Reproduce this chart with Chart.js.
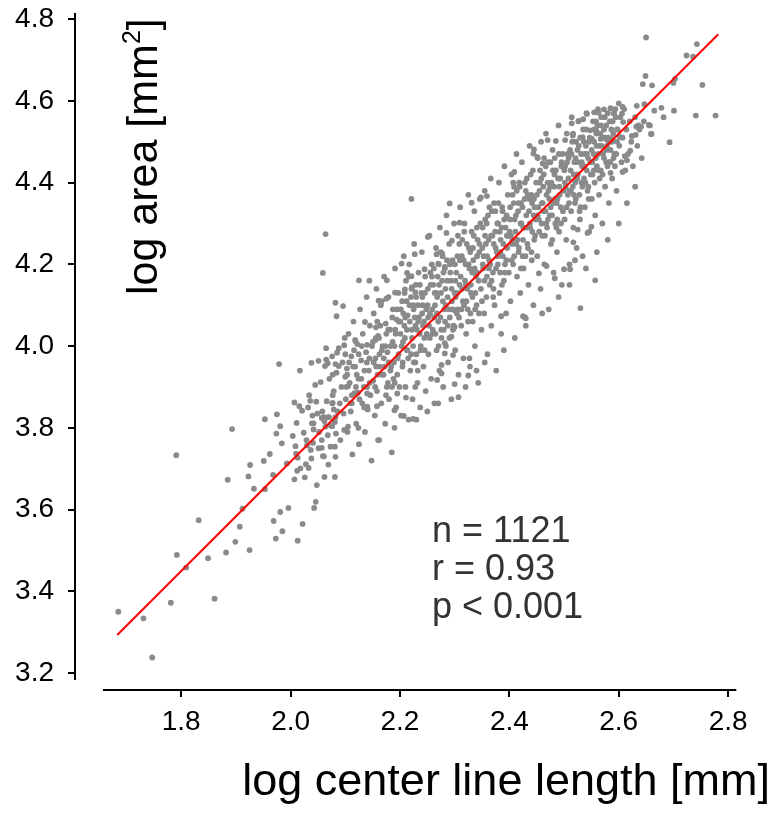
<!DOCTYPE html>
<html>
<head>
<meta charset="utf-8">
<title>log area vs log center line length</title>
<script src="https://cdn.jsdelivr.net/npm/chart.js@4.4.0/dist/chart.umd.min.js"></script>
<style>
  html, body { margin: 0; padding: 0; background: #fff; }
  canvas { display: block; }
</style>
</head>
<body>
<canvas id="scatterChart" width="773" height="813"></canvas>
<script>
// Tick values for both axes
const xTicks = [1.8, 2.0, 2.2, 2.4, 2.6, 2.8];
const yTicks = [3.2, 3.4, 3.6, 3.8, 4.0, 4.2, 4.4, 4.6, 4.8];

// Fitted line end points (log center line length -> log area)
const fitX = [1.683, 2.782];
const fitY = [3.293, 4.763];

// Stats text shown inside the plot
const statsLines = ["n = 1121", "r = 0.93", "p < 0.001"];

// Points, [log length, log area]
// lower tail, x < 2.1
const lowTail = [
  [1.685,3.350],[1.747,3.238],[1.731,3.334],[1.781,3.372],[1.861,3.382],[1.792,3.489],[1.809,3.458],[1.849,3.481],
  [1.832,3.574],[1.791,3.733],[1.893,3.797],[1.882,3.495],[1.899,3.521],[1.925,3.501],[1.907,3.558],[1.912,3.602],
  [1.885,3.673],[1.923,3.681],[1.933,3.651],[1.926,3.709],[1.953,3.650],[1.951,3.719],[1.962,3.736],[1.953,3.821],
  [1.975,3.833],[1.981,3.804],[1.974,3.786],[1.984,3.762],[1.968,3.685],[1.993,3.713],[1.996,3.604],[1.981,3.594],
  [1.969,3.572],[1.985,3.547],[1.973,3.529],[2.013,3.524],[2.022,3.565],[2.007,3.674],[2.012,3.695],[2.009,3.755],
  [2.013,3.727],[2.007,3.862],[2.016,3.853],[2.032,3.850],[2.036,3.866],[2.047,3.864],[2.040,3.830],[2.039,3.811],
  [2.024,3.788],[2.030,3.757],[2.037,3.746],[2.028,3.711],[2.033,3.702],[2.046,3.619],[2.043,3.604],
  [2.082,4.106],[2.084,4.073],[2.065,3.995],[2.085,3.984],[1.979,3.956],[2.038,3.959],[2.051,3.964],[2.065,3.967],
  [2.068,3.958],[2.082,3.956],[2.017,3.940],[2.077,3.930],[2.077,3.880],[2.077,3.861],[2.079,3.845],[2.061,3.826],
  [2.069,3.826],[2.082,3.826],[2.064,3.803],[2.076,3.804],[2.068,3.782],[2.057,3.770],[2.073,3.754],[2.081,3.754],
  [2.059,3.731],[2.082,3.729],[2.062,3.680],[2.042,3.811],[2.041,3.763],[2.010,3.737],[2.051,3.750],[2.057,3.751],
  [2.083,3.786],
  [2.004,3.78],[2.011,3.812],[2.018,3.701],[2.021,3.842],[2.026,3.679],[2.029,3.77],[2.034,3.88],[2.038,3.725],
  [2.042,3.796],[2.045,3.905],[2.048,3.66],[2.049,3.835],
  [2.052,3.79],[2.055,3.912],[2.058,3.84],[2.061,3.73],[2.063,3.951],[2.066,3.865],[2.069,3.71],[2.071,3.92],
  [2.074,3.805],[2.076,3.975],[2.079,3.89],[2.081,3.68],[2.084,3.935],[2.086,3.84],[2.088,3.995],[2.091,3.77],
  [2.093,3.9],[2.095,3.96],[2.097,3.835],[2.099,4.02]
];

// middle of the cloud, 2.05 - 2.35
const midCloud = [
  [2.064,4.274],[2.059,4.179],[2.125,4.161],[2.144,4.160],[2.176,4.161],[2.096,4.098],[2.203,4.202],[2.227,4.225],
  [2.251,4.267],[2.285,4.277],[2.267,4.225],[2.277,4.227],[2.295,4.258],[2.213,4.179],[2.221,4.171],[2.245,4.188],
  [2.270,4.202],[2.282,4.194],[2.161,4.111],[2.175,4.116],[2.191,4.131],[2.209,4.139],[2.222,4.144],[2.228,4.132],
  [2.136,4.059],[2.156,4.046],[2.118,4.015],[2.140,4.003],[2.155,4.015],[2.100,3.980],[2.088,3.951],[2.100,3.925],
  [2.105,3.902],[2.076,3.860],[2.090,3.860],[2.112,3.860],[2.140,3.852],[2.158,3.853],[2.123,3.886],[2.140,3.884],
  [2.195,3.884],[2.211,3.874],[2.228,3.900],[2.268,3.917],[2.300,3.907],[2.276,3.933],[2.276,3.954],[2.297,3.978],
  [2.282,3.982],[2.300,4.088],[2.300,4.047],[2.294,4.023],[2.282,4.007],
  [2.221,4.360],[2.291,4.349],[2.331,4.351],[2.309,4.302],[2.098,4.002],[2.119,4.011],[2.327,3.970],[2.307,3.875],
  [2.325,3.928],[2.224,3.822],[2.207,3.829],[2.190,3.843],[2.057,3.824],[2.070,3.826],[2.062,3.816],[2.081,3.814],
  [2.098,3.795],[2.105,3.803],[2.124,3.800],
  [2.101,3.87],[2.103,3.945],[2.104,3.79],[2.106,4.03],[2.108,3.91],[2.11,3.84],[2.111,3.975],[2.113,3.735],
  [2.115,4.06],[2.117,3.885],[2.118,3.95],[2.12,3.81],[2.122,4.005],[2.124,3.92],[2.125,3.76],[2.127,4.09],
  [2.129,3.965],[2.131,3.86],[2.132,4.03],[2.134,3.9],[2.136,3.79],[2.138,3.985],[2.139,4.12],[2.141,3.845],
  [2.143,3.94],[2.145,4.05],[2.146,3.88],[2.148,3.72],[2.149,4.0],
  [2.151,3.915],[2.152,4.08],[2.154,3.83],[2.155,3.97],[2.157,4.14],[2.158,3.89],[2.16,4.025],[2.162,3.77],
  [2.163,3.95],[2.165,4.1],[2.166,3.86],[2.168,4.0],[2.17,3.93],[2.171,4.17],[2.173,3.81],[2.174,4.055],
  [2.176,3.9],[2.177,3.985],[2.179,4.12],[2.18,3.87],[2.182,4.04],[2.184,3.95],[2.185,3.74],[2.187,4.09],
  [2.188,3.92],[2.19,4.0],[2.191,4.19],[2.193,3.85],[2.194,4.065],[2.196,3.97],[2.197,4.13],[2.199,3.9],
  [2.201,4.03],[2.202,3.83],[2.204,4.11],[2.205,3.96],[2.207,4.22],[2.208,4.05],[2.21,3.9],[2.211,4.16],
  [2.213,3.99],[2.214,4.075],[2.216,3.82],[2.217,4.2],[2.219,3.94],[2.22,4.12],[2.222,4.02],[2.223,3.87],
  [2.225,4.09],[2.226,4.25],[2.228,3.96],[2.229,4.15],[2.231,4.04],[2.232,3.91],[2.234,4.18],[2.235,4.07],
  [2.237,3.85],[2.238,4.0],[2.24,4.23],[2.241,4.12],[2.243,3.95],[2.244,4.06],[2.246,4.17],[2.247,3.89],[2.249,4.03],
  [2.251,4.14],[2.252,3.98],[2.254,4.27],[2.255,4.08],[2.257,3.92],[2.258,4.2],[2.26,4.04],[2.261,4.15],
  [2.263,3.86],[2.264,4.1],[2.266,4.24],[2.267,3.99],[2.269,4.17],[2.27,4.06],[2.272,3.94],[2.273,4.29],
  [2.275,4.13],[2.276,4.02],[2.278,4.22],[2.279,3.9],[2.281,4.09],[2.282,4.19],[2.284,4.0],[2.285,4.32],
  [2.287,4.12],[2.288,3.96],[2.29,4.25],[2.291,4.07],[2.293,4.16],[2.294,3.87],[2.296,4.21],[2.297,4.04],
  [2.299,4.3],[2.3,4.13],
  [2.301,3.99],[2.303,4.18],[2.304,4.08],[2.306,4.27],[2.307,3.93],[2.309,4.15],[2.31,4.34],[2.312,4.05],
  [2.313,4.22],[2.315,4.11],[2.316,3.97],[2.318,4.3],[2.319,4.16],[2.321,4.03],[2.322,4.25],[2.324,4.09],
  [2.325,4.37],[2.327,4.19],[2.328,3.95],[2.33,4.13],[2.331,4.28],[2.333,4.06],[2.334,4.21],[2.336,4.33],
  [2.337,4.0],[2.339,4.17],[2.34,4.1],[2.342,4.26],[2.343,3.91],[2.345,4.23],[2.346,4.36],[2.348,4.14],[2.349,4.04],
  [2.16,3.77],[2.19,3.8],[2.23,3.82],[2.25,3.84],[2.27,3.86],[2.32,3.9],[2.34,3.94]
];

// upper part of the cloud, 2.35 - 2.78
const upperCloud = [
  [2.649,4.661],[2.644,4.641],[2.661,4.638],[2.703,4.654],[2.700,4.644],[2.753,4.639],[2.777,4.564],[2.741,4.564],
  [2.701,4.576],[2.682,4.560],[2.678,4.583],[2.665,4.576],[2.693,4.499],[2.659,4.519],[2.655,4.541],[2.633,4.588],
  [2.647,4.592],[2.636,4.540],[2.632,4.537],[2.624,4.514],[2.631,4.517],[2.621,4.478],[2.611,4.465],[2.615,4.455],
  [2.607,4.426],[2.585,4.424],[2.557,4.161],[2.530,4.093],[2.550,4.292],[2.543,4.277],[2.520,4.210],[2.517,4.254],
  [2.525,4.285],[2.500,4.188],[2.511,4.188],[2.483,4.166],[2.468,4.196],[2.454,4.178],[2.425,4.073],[2.430,4.068],
  [2.385,4.073],[2.348,4.364],[2.359,4.367],[2.409,4.426],[2.407,4.400],[2.470,4.504],[2.485,4.502],[2.502,4.504],
  [2.516,4.515],[2.445,4.481],[2.444,4.471],[2.451,4.463],[2.461,4.447],[2.514,4.545],[2.527,4.551],[2.535,4.555],
  [2.542,4.568],[2.555,4.572],[2.563,4.571],[2.573,4.579],[2.585,4.582],[2.600,4.594],[2.607,4.585],[2.606,4.569],
  [2.591,4.569],[2.608,4.548],[2.597,4.530],[2.602,4.512],[2.588,4.507],[2.579,4.504],[2.534,4.511],[2.551,4.507],
  [2.567,4.507],[2.548,4.528],[2.559,4.527],
  [2.650,4.755],[2.743,4.739],[2.724,4.711],[2.736,4.708],[2.657,4.540],[2.660,4.519],[2.641,4.537],
  [2.351,4.29],[2.352,4.19],[2.354,4.08],[2.355,4.38],[2.357,4.25],[2.358,4.12],[2.36,3.98],[2.361,4.32],
  [2.363,4.21],[2.364,4.15],[2.366,4.41],[2.367,4.05],[2.369,4.27],[2.37,4.18],[2.372,4.35],[2.373,4.1],
  [2.375,4.24],[2.376,3.94],[2.378,4.3],[2.379,4.2],[2.381,4.4],[2.382,4.13],[2.384,4.26],[2.385,4.03],
  [2.387,4.34],[2.388,4.22],[2.39,4.16],[2.391,4.44],[2.393,4.29],[2.394,4.08],[2.396,4.24],[2.397,4.37],[2.399,4.18],
  [2.401,4.31],[2.402,4.11],[2.404,4.42],[2.405,4.25],[2.407,4.2],[2.408,4.35],[2.41,4.02],[2.411,4.28],
  [2.413,4.47],[2.414,4.17],[2.416,4.33],[2.417,4.23],[2.419,4.39],[2.42,4.13],[2.422,4.3],[2.423,4.45],
  [2.425,4.26],[2.426,4.19],[2.428,4.36],[2.429,4.07],[2.431,4.32],[2.432,4.41],[2.434,4.24],[2.435,4.15],
  [2.437,4.49],[2.438,4.29],[2.44,4.37],[2.441,4.21],[2.443,4.43],[2.444,4.1],[2.446,4.34],[2.447,4.27],[2.449,4.4],
  [2.451,4.22],[2.452,4.46],[2.454,4.31],[2.455,4.38],[2.457,4.14],[2.458,4.5],[2.46,4.27],[2.461,4.35],
  [2.463,4.42],[2.464,4.2],[2.466,4.33],[2.467,4.52],[2.469,4.29],[2.47,4.4],[2.472,4.09],[2.473,4.36],
  [2.475,4.45],[2.476,4.25],[2.478,4.32],[2.479,4.48],[2.481,4.18],[2.482,4.39],[2.484,4.3],[2.485,4.43],
  [2.487,4.23],[2.488,4.36],[2.49,4.54],[2.491,4.28],[2.493,4.41],[2.494,4.34],[2.496,4.15],[2.497,4.47],[2.499,4.38],
  [2.501,4.31],[2.502,4.44],[2.504,4.26],[2.505,4.52],[2.507,4.37],[2.508,4.41],[2.51,4.2],[2.511,4.48],
  [2.513,4.33],[2.514,4.56],[2.516,4.39],[2.517,4.29],[2.519,4.45],[2.52,4.35],[2.522,4.5],[2.523,4.24],
  [2.525,4.42],[2.526,4.55],[2.528,4.37],[2.529,4.31],[2.531,4.47],[2.532,4.4],[2.534,4.22],[2.535,4.53],
  [2.537,4.44],[2.538,4.34],[2.54,4.49],[2.541,4.57],[2.543,4.38],[2.544,4.46],[2.546,4.28],[2.547,4.51],[2.549,4.42],
  [2.551,4.36],[2.553,4.55],[2.554,4.47],[2.556,4.4],[2.557,4.32],[2.559,4.52],[2.56,4.44],[2.562,4.58],
  [2.564,4.37],[2.565,4.49],[2.567,4.43],[2.568,4.56],[2.57,4.3],[2.572,4.51],[2.573,4.46],[2.575,4.39],
  [2.577,4.54],[2.578,4.48],[2.58,4.57],[2.582,4.35],[2.583,4.5],[2.585,4.45],[2.587,4.55],[2.588,4.41],
  [2.59,4.52],[2.592,4.47],[2.594,4.58],[2.596,4.38],[2.598,4.53],
  [2.601,4.49],[2.603,4.56],[2.605,4.45],[2.607,4.51],[2.61,4.58],[2.612,4.43],[2.614,4.53],[2.617,4.47],
  [2.62,4.55],[2.623,4.5],[2.626,4.44],[2.63,4.56],[2.634,4.49],[2.638,4.53],[2.642,4.46],[2.646,4.55],
  [2.355,3.96],[2.39,3.99],[2.43,4.05],[2.46,4.08],[2.49,4.12],[2.51,4.15],[2.54,4.19],[2.56,4.23],
  [2.58,4.26],[2.6,4.3],[2.615,4.35],[2.63,4.39]
];

// densest core of the band
const coreCloud = [
  [2.102,3.9],[2.107,3.96],[2.112,3.88],[2.116,3.99],[2.121,3.93],[2.126,3.87],[2.13,4.0],[2.135,3.94],[2.14,3.9],[2.144,3.97],
  [2.152,3.96],[2.156,4.02],[2.159,3.93],[2.164,4.05],[2.167,3.99],[2.172,3.95],[2.175,4.03],[2.178,3.91],
  [2.183,4.0],[2.186,4.07],[2.189,3.96],[2.192,4.03],[2.195,3.93],[2.198,4.06],
  [2.203,4.0],[2.206,4.08],[2.209,4.02],[2.212,4.11],[2.215,3.97],[2.218,4.06],[2.221,4.14],[2.224,4.0],
  [2.227,4.07],[2.23,3.98],[2.233,4.1],[2.236,4.03],[2.239,4.13],[2.242,4.05],[2.245,3.99],[2.248,4.09],
  [2.253,4.05],[2.256,4.15],[2.259,4.09],[2.262,4.19],[2.265,4.03],[2.268,4.12],[2.271,4.2],[2.274,4.07],
  [2.277,4.16],[2.28,4.04],[2.283,4.14],[2.286,4.21],[2.289,4.09],[2.292,4.18],[2.295,4.11],[2.298,4.05],
  [2.302,4.12],[2.305,4.22],[2.308,4.07],[2.311,4.17],[2.314,4.26],[2.317,4.1],[2.32,4.2],[2.323,4.14],
  [2.326,4.24],[2.329,4.08],[2.332,4.18],[2.335,4.27],[2.338,4.13],[2.341,4.22],[2.344,4.16],[2.347,4.3],[2.35,4.11],
  [2.353,4.22],[2.356,4.31],[2.359,4.17],[2.362,4.26],[2.365,4.2],[2.368,4.33],[2.371,4.14],[2.374,4.28],
  [2.377,4.23],[2.38,4.35],[2.383,4.18],[2.386,4.29],[2.389,4.25],[2.392,4.2],[2.395,4.32],[2.398,4.27],
  [2.403,4.27],[2.406,4.37],[2.409,4.22],[2.412,4.32],[2.415,4.26],[2.418,4.4],[2.421,4.19],[2.424,4.34],
  [2.427,4.29],[2.43,4.38],[2.433,4.25],[2.436,4.33],[2.439,4.42],[2.442,4.28],[2.445,4.36],[2.448,4.31],
  [2.453,4.34],[2.456,4.43],[2.459,4.3],[2.462,4.39],[2.465,4.27],[2.468,4.37],[2.471,4.45],[2.474,4.32],
  [2.477,4.4],[2.48,4.35],[2.483,4.46],[2.486,4.29],[2.489,4.41],[2.492,4.37],[2.495,4.44],[2.498,4.33],
  [2.503,4.39],[2.506,4.47],[2.509,4.35],[2.512,4.43],[2.515,4.5],[2.518,4.37],[2.521,4.46],[2.524,4.41],
  [2.527,4.49],[2.53,4.34],[2.533,4.44],[2.536,4.5],[2.539,4.4],[2.542,4.47],[2.545,4.36],[2.548,4.45],
  [2.552,4.42],[2.555,4.5],[2.558,4.46],[2.561,4.54],[2.565,4.41],[2.569,4.49],[2.573,4.53],[2.577,4.45],
  [2.581,4.51],[2.585,4.48],[2.589,4.55],[2.593,4.44],[2.597,4.5]
];

// more of the core, the picture is almost solid here
const coreCloud2 = [
  [2.1505,4.01],[2.1545,3.9],[2.1585,4.06],[2.1625,3.98],[2.1665,4.11],[2.1705,3.97],[2.1745,3.88],[2.1785,4.04],
  [2.1825,3.94],[2.1865,4.01],[2.1905,3.91],[2.1945,4.09],
  [2.2005,4.06],[2.2045,3.95],[2.2085,4.13],[2.2125,4.04],[2.2165,4.17],[2.2205,3.98],[2.2245,4.1],[2.2285,4.05],
  [2.2325,3.94],[2.2365,4.15],[2.2405,4.08],[2.2445,4.02],
  [2.2505,4.1],[2.2545,4.02],[2.2585,4.17],[2.2625,4.07],[2.2665,4.13],[2.2705,4.0],[2.2745,4.23],[2.2785,4.11],
  [2.2825,4.06],[2.2865,4.16],[2.2905,4.02],[2.2945,4.14],
  [2.3005,4.2],[2.3045,4.13],[2.3085,4.25],[2.3125,4.09],[2.3165,4.21],[2.3205,4.15],[2.3245,4.06],[2.3285,4.23],
  [2.3325,4.12],[2.3365,4.19],[2.3405,4.29],[2.3445,4.08],
  [2.3505,4.24],[2.3545,4.16],[2.3585,4.3],[2.3625,4.19],[2.3665,4.27],[2.3705,4.12],[2.3745,4.33],[2.3785,4.22],
  [2.3825,4.28],[2.3865,4.15],[2.3905,4.31],[2.3945,4.21],
  [2.4005,4.28],[2.4045,4.21],[2.4085,4.39],[2.4125,4.25],[2.4165,4.35],[2.4205,4.3],[2.4245,4.22],[2.4285,4.4],
  [2.4325,4.29],[2.4365,4.36],[2.4405,4.23],[2.4445,4.32],
  [2.4505,4.37],[2.4545,4.28],[2.4585,4.41],[2.4625,4.33],[2.4665,4.44],[2.4705,4.31],[2.4745,4.39],[2.4785,4.26],
  [2.4825,4.42],[2.4865,4.35],[2.4905,4.47],[2.4945,4.3],
  [2.5005,4.43],[2.5045,4.34],[2.5085,4.46],[2.5125,4.38],[2.5165,4.52],[2.5205,4.4],[2.5245,4.48],[2.5285,4.33],
  [2.5325,4.45],[2.5365,4.41],[2.5405,4.53],[2.5445,4.39],
  [2.5505,4.48],[2.5545,4.43],[2.5585,4.55],[2.5625,4.47],[2.5665,4.52],[2.5705,4.42],[2.5745,4.56],[2.5785,4.49],
  [2.5825,4.45],[2.5865,4.53],[2.5905,4.46],[2.5945,4.56]
];

// still more of the core
const coreCloud3 = [
  [2.1035,3.93],[2.1095,3.86],[2.1145,3.95],[2.1195,3.9],[2.1245,3.98],[2.1295,3.92],[2.1345,3.85],[2.1395,3.96],
  [2.1445,3.91],[2.1565,3.95],[2.1615,4.02],[2.1675,3.93],[2.1735,4.0],[2.1795,3.96],[2.1855,3.9],[2.1915,4.04],[2.1975,3.98],
  [2.2015,4.09],[2.2055,4.01],[2.2095,4.07],[2.2135,3.99],[2.2175,4.1],[2.2215,4.04],[2.2255,3.96],[2.2295,4.12],
  [2.2335,4.06],[2.2375,3.99],[2.2415,4.1],[2.2455,4.13],
  [2.2515,4.07],[2.2555,4.18],[2.2595,4.03],[2.2635,4.13],[2.2675,4.08],[2.2715,4.15],[2.2755,4.04],[2.2795,4.18],
  [2.2835,4.1],[2.2875,4.05],[2.2915,4.2],[2.2955,4.09],
  [2.3015,4.16],[2.3055,4.09],[2.3095,4.21],[2.3135,4.14],[2.3175,4.28],[2.3215,4.11],[2.3255,4.2],[2.3295,4.15],
  [2.3335,4.24],[2.3375,4.09],[2.3415,4.18],[2.3455,4.25],
  [2.3515,4.2],[2.3555,4.27],[2.3595,4.22],[2.3635,4.34],[2.3675,4.16],[2.3715,4.25],[2.3755,4.19],[2.3795,4.3],
  [2.3835,4.23],[2.3875,4.33],[2.3915,4.18],[2.3955,4.27],
  [2.4015,4.34],[2.4055,4.26],[2.4095,4.31],[2.4135,4.38],[2.4175,4.24],[2.4215,4.35],[2.4255,4.29],[2.4295,4.22],
  [2.4335,4.37],[2.4375,4.3],[2.4415,4.35],[2.4455,4.26],
  [2.4515,4.32],[2.4555,4.4],[2.4595,4.35],[2.4635,4.46],[2.4675,4.3],[2.4715,4.38],[2.4755,4.34],[2.4795,4.43],
  [2.4835,4.36],[2.4875,4.31],[2.4915,4.39],[2.4955,4.45],
  [2.5015,4.4],[2.5055,4.45],[2.5095,4.38],[2.5135,4.47],[2.5175,4.42],[2.5215,4.36],[2.5255,4.45],[2.5295,4.51],
  [2.5335,4.39],[2.5375,4.47],[2.5415,4.43],[2.5455,4.5],
  [2.5515,4.45],[2.5555,4.53],[2.5595,4.49],[2.5635,4.43],[2.5675,4.54],[2.5715,4.47],[2.5755,4.51],[2.5795,4.44],
  [2.5835,4.55],[2.5875,4.5],[2.5915,4.57],[2.5955,4.47]
];

const fontFamily = "'Liberation Sans', Arial, Helvetica, sans-serif";

// Build chart points from the arrays
const scatterPoints = [...lowTail, ...midCloud, ...upperCloud, ...coreCloud, ...coreCloud2, ...coreCloud3]
  .map(([x, y]) => ({ x, y }));
const fitPoints = fitX.map((x, i) => ({ x, y: fitY[i] }));

// Axis lines drawn off the plot box (base R look), plus titles and stats text
const framePlugin = {
  id: "framePlugin",
  afterDraw(chart) {
    const { ctx, chartArea: area, scales } = chart;
    const axisX = area.left - 28;
    const axisY = area.bottom + 10;

    ctx.save();
    ctx.strokeStyle = "#000";
    ctx.lineWidth = 2;
    ctx.beginPath();
    ctx.moveTo(axisX, area.top);
    ctx.lineTo(axisX, area.bottom);
    yTicks.forEach((v) => {
      const p = Math.round(scales.y.getPixelForValue(v));
      ctx.moveTo(axisX - 7, p);
      ctx.lineTo(axisX, p);
    });
    ctx.moveTo(area.left, axisY);
    ctx.lineTo(area.right, axisY);
    xTicks.forEach((v) => {
      const p = Math.round(scales.x.getPixelForValue(v));
      ctx.moveTo(p, axisY);
      ctx.lineTo(p, axisY + 7);
    });
    ctx.stroke();

    // x title
    ctx.fillStyle = "#000";
    ctx.font = `45px ${fontFamily}`;
    ctx.textAlign = "right";
    ctx.textBaseline = "alphabetic";
    ctx.fillText("log center line length [mm]", 770, 795);

    // y title, rotated, with superscript 2
    ctx.save();
    ctx.translate(157, 295);
    ctx.rotate(-Math.PI / 2);
    ctx.textAlign = "left";
    ctx.font = `43px ${fontFamily}`;
    const head = "log area [mm";
    ctx.fillText(head, 0, 0);
    let w = ctx.measureText(head).width;
    ctx.font = `25px ${fontFamily}`;
    ctx.fillText("2", w, -17);
    w += ctx.measureText("2").width;
    ctx.font = `43px ${fontFamily}`;
    ctx.fillText("]", w, 0);
    ctx.restore();

    // stats
    ctx.fillStyle = "#333";
    ctx.font = `36px ${fontFamily}`;
    ctx.textAlign = "left";
    statsLines.forEach((line, i) => ctx.fillText(line, 432, 542 + i * 38));
    ctx.restore();
  },
};

const ctx = document.getElementById("scatterChart").getContext("2d");

const chart = new Chart(ctx, {
  type: "scatter",
  data: {
    datasets: [
      {
        type: "line",
        label: "fit",
        data: fitPoints,
        borderColor: "#ff0000",
        borderWidth: 2,
        pointRadius: 0,
        fill: false,
      },
      {
        label: "vessels",
        data: scatterPoints,
        backgroundColor: "#8a8a8a",
        borderWidth: 0,
        pointRadius: 2.9,
      },
    ],
  },
  options: {
    responsive: false,
    animation: false,
    devicePixelRatio: 1,
    layout: { padding: { left: 0, top: 13, right: 33, bottom: 0 } },
    scales: {
      x: {
        type: "linear",
        min: 1.657,
        max: 2.815,
        grid: { display: false, drawTicks: false },
        border: { display: false },
        afterBuildTicks: (scale) => { scale.ticks = xTicks.map((v) => ({ value: v })); },
        afterFit: (scale) => { scale.height = 133; },
        ticks: {
          autoSkip: false,
          maxRotation: 0,
          padding: 25,
          color: "#000",
          font: { family: fontFamily, size: 28 },
          callback: (value) => value.toFixed(1),
        },
      },
      y: {
        type: "linear",
        min: 3.183,
        max: 4.815,
        grid: { display: false, drawTicks: false },
        border: { display: false },
        afterBuildTicks: (scale) => { scale.ticks = yTicks.map((v) => ({ value: v })); },
        afterFit: (scale) => {
          // tick padding would otherwise push the plot top down
          scale.width = 103;
          scale.paddingTop = 0;
          scale.paddingBottom = 0;
        },
        ticks: {
          autoSkip: false,
          padding: 49,
          color: "#000",
          font: { family: fontFamily, size: 28 },
          callback: (value) => value.toFixed(1),
        },
      },
    },
    plugins: {
      legend: { display: false },
      tooltip: { enabled: false },
    },
  },
  plugins: [framePlugin],
});
</script>
</body>
</html>
